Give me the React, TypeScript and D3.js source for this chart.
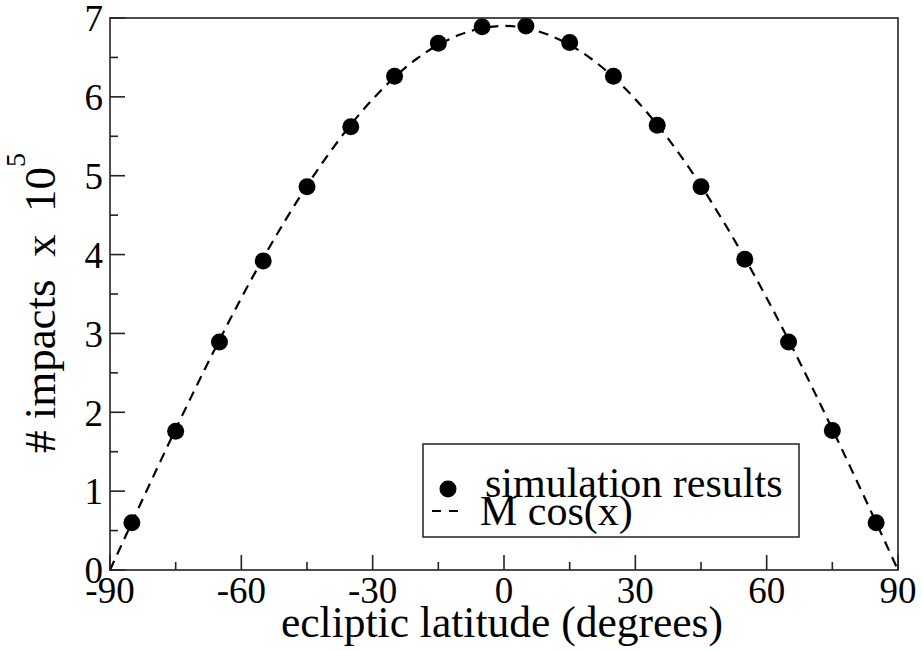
import React, { useEffect, useRef } from 'react';
import * as d3 from 'd3';

// simulation results (latitude bins, impacts in units of 1e5)
const latitudes = [-85, -75, -65, -55, -45, -35, -25, -15, -5, 5, 15, 25, 35, 45, 55, 65, 75, 85];
const impacts = [0.6, 1.76, 2.89, 3.92, 4.86, 5.62, 6.26, 6.68, 6.89, 6.9, 6.69, 6.26, 5.64, 4.86, 3.94, 2.89, 1.77, 0.6];

// fitted M cos(x) curve, sampled every 10 degrees
const fitLat = [-90, -80, -70, -60, -50, -40, -30, -20, -10, 0, 10, 20, 30, 40, 50, 60, 70, 80, 90];
const fitVal = [0, 1.2, 2.36, 3.45, 4.43, 5.28, 5.97, 6.48, 6.79, 6.9, 6.79, 6.48, 5.97, 5.28, 4.43, 3.45, 2.36, 1.2, 0];

const xTicks = [-90, -60, -30, 0, 30, 60, 90];
const xMinor = [-75, -45, -15, 15, 45, 75];
const yTicks = [0, 1, 2, 3, 4, 5, 6, 7];
const yMinor = [0.5, 1.5, 2.5, 3.5, 4.5, 5.5, 6.5];

const legendLabels = ['simulation results', 'M cos(x)'];

const W = 922;
const H = 651;
const FONT = '"Liberation Serif", "Times New Roman", serif';

export default function App() {
  const svgRef = useRef<SVGSVGElement>(null);

  useEffect(() => {
    if (!svgRef.current) return;
    const svg = d3.select(svgRef.current);
    svg.selectAll('*').remove();

    const left = 110;
    const right = 898;
    const top = 18;
    const bottom = 570;

    const x = d3.scaleLinear().domain([-90, 90]).range([left, right]);
    const y = d3.scaleLinear().domain([0, 7]).range([bottom, top]);

    // fit curve
    const line = d3
      .line<number>()
      .x((d, i) => x(fitLat[i]))
      .y((d) => y(d))
      .curve(d3.curveNatural);

    svg
      .append('path')
      .attr('d', line(fitVal) || '')
      .attr('fill', 'none')
      .attr('stroke', '#000')
      .attr('stroke-width', 2.2)
      .attr('stroke-dasharray', '10,7');

    // points
    svg
      .selectAll('circle.pt')
      .data(impacts)
      .enter()
      .append('circle')
      .attr('class', 'pt')
      .attr('cx', (d, i) => x(latitudes[i]))
      .attr('cy', (d) => y(d))
      .attr('r', 8.5)
      .attr('fill', '#000');

    // frame
    svg
      .append('rect')
      .attr('x', left)
      .attr('y', top)
      .attr('width', right - left)
      .attr('height', bottom - top)
      .attr('fill', 'none')
      .attr('stroke', '#222')
      .attr('stroke-width', 1.6);

    // ticks
    const tk = svg.append('g').attr('stroke', '#222').attr('stroke-width', 1.6);
    xTicks.forEach((t) => {
      tk.append('line').attr('x1', x(t)).attr('x2', x(t)).attr('y1', bottom).attr('y2', bottom - 15);
    });
    xMinor.forEach((t) => {
      tk.append('line').attr('x1', x(t)).attr('x2', x(t)).attr('y1', bottom).attr('y2', bottom - 8);
    });
    yTicks.forEach((t) => {
      tk.append('line').attr('x1', left).attr('x2', left + 15).attr('y1', y(t)).attr('y2', y(t));
    });
    yMinor.forEach((t) => {
      tk.append('line').attr('x1', left).attr('x2', left + 8).attr('y1', y(t)).attr('y2', y(t));
    });

    // tick labels
    svg
      .selectAll('text.xt')
      .data(xTicks)
      .enter()
      .append('text')
      .attr('x', (d) => x(d))
      .attr('y', 603)
      .attr('text-anchor', 'middle')
      .style('font-family', FONT)
      .style('font-size', '37px')
      .text((d) => d);

    svg
      .selectAll('text.yt')
      .data(yTicks)
      .enter()
      .append('text')
      .attr('x', 103)
      .attr('y', (d) => y(d))
      .attr('dy', '0.36em')
      .attr('text-anchor', 'end')
      .style('font-family', FONT)
      .style('font-size', '37px')
      .text((d) => d);

    // axis titles
    svg
      .append('text')
      .attr('x', 502)
      .attr('y', 637)
      .attr('text-anchor', 'middle')
      .style('font-family', FONT)
      .style('font-size', '43.5px')
      .text('ecliptic latitude (degrees)');

    const yl = svg
      .append('text')
      .attr('transform', `translate(55, 303) rotate(-90)`)
      .attr('text-anchor', 'middle')
      .attr('xml:space', 'preserve')
      .style('font-family', FONT)
      .style('font-size', '45px')
      .style('white-space', 'pre');
    yl.append('tspan').text('# impacts  x  10');
    yl.append('tspan').attr('dy', -30).style('font-size', '28px').text('5');

    // legend
    const lg = svg.append('g');
    lg.append('rect')
      .attr('x', 423)
      .attr('y', 444)
      .attr('width', 376)
      .attr('height', 93)
      .attr('fill', '#fff')
      .attr('stroke', '#222')
      .attr('stroke-width', 1.5);
    lg.append('circle').attr('cx', 448).attr('cy', 489).attr('r', 8.5).attr('fill', '#000');
    lg.append('line')
      .attr('x1', 432)
      .attr('x2', 462)
      .attr('y1', 511)
      .attr('y2', 511)
      .attr('stroke', '#000')
      .attr('stroke-width', 2.2)
      .attr('stroke-dasharray', '9,8');
    legendLabels.forEach((l, i) => {
      lg.append('text')
        .attr('x', i === 0 ? 485 : 480)
        .attr('y', 497 + i * 28)
        .style('font-family', FONT)
        .style('font-size', '42px')
        .text(l);
    });
  }, []);

  return (
    <svg
      ref={svgRef}
      width={W}
      height={H}
      style={{ position: 'absolute', left: 0, top: 0, background: '#fff' }}
    />
  );
}
